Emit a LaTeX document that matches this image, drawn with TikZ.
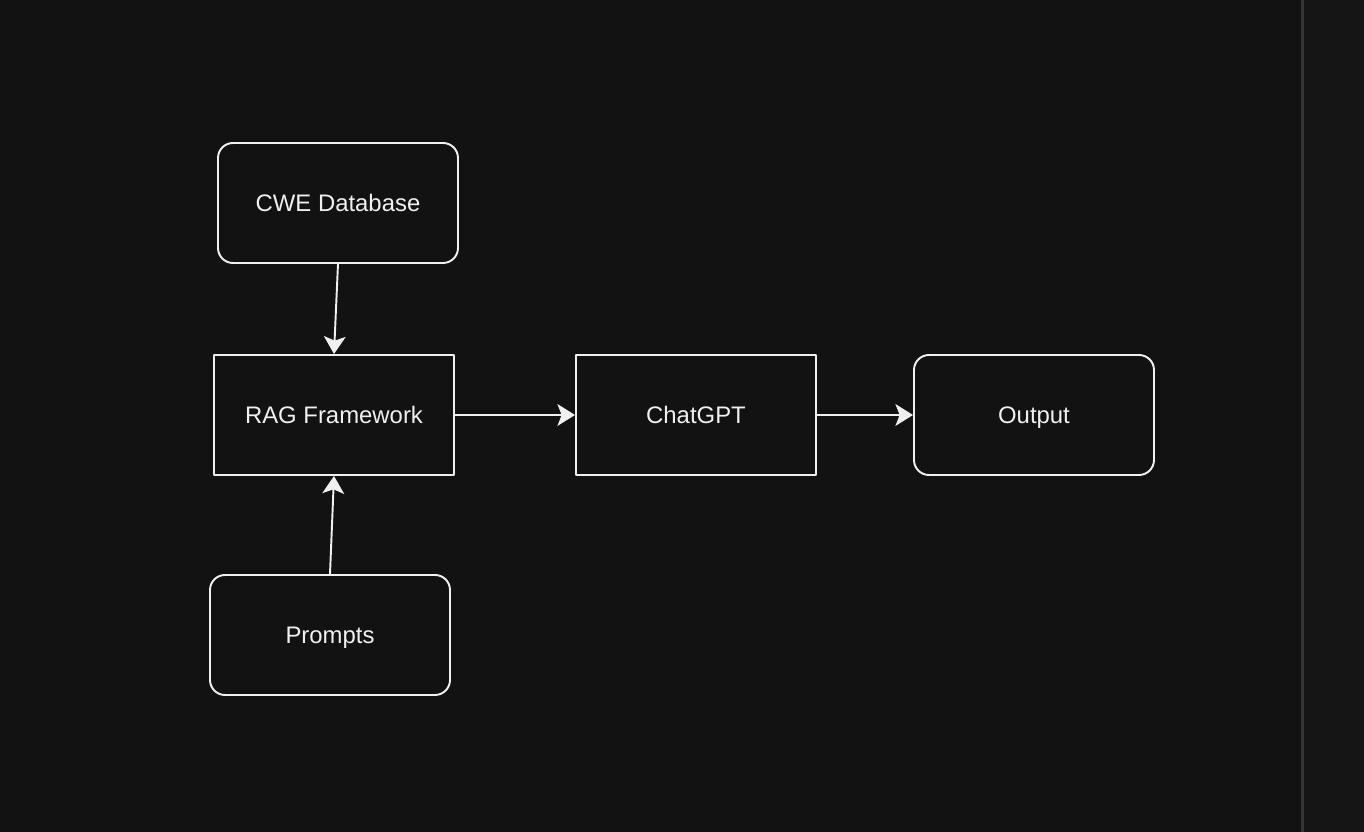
\documentclass[tikz,border=0pt]{standalone}
\usepackage{fontspec}
\setmainfont{Liberation Sans}
\usetikzlibrary{arrows.meta}
\definecolor{bgdark}{HTML}{121212}
\definecolor{bgside}{HTML}{151515}
\definecolor{edgegray}{HTML}{F0F0F0}
\definecolor{stripegray}{HTML}{363636}
\begin{document}
\begin{tikzpicture}[>={Stealth[length=5pt,width=6.2pt,inset=1.2pt]},line join=round,font=\fontsize{6.8pt}{8pt}\selectfont,x=1cm,y=-1cm]
	\tikzset{
		block/.style={draw=edgegray,line width=0.55pt,text=edgegray,minimum width=2.4cm,minimum height=1.2cm,inner sep=0pt,text height=4.87pt,text depth=0pt},
		roundblock/.style={block,rounded corners=0.15cm},
		flow/.style={->,draw=edgegray,line width=0.55pt}
	}
	\fill[bgdark] (0,0) rectangle (13.64,8.32);
	\useasboundingbox (0,0) rectangle (13.64,8.32);
	\fill[bgside] (13.04,0) rectangle (13.64,8.32);
	\draw[stripegray,line width=0.9pt] (13.025,0)--(13.025,8.32);
	% boxes
	\node[roundblock] (cwe) at (3.38,2.03) {CWE Database};
	\node[block] (rag) at (3.34,4.15) {RAG Framework};
	\node[block] (gpt) at (6.96,4.15) {ChatGPT};
	\node[roundblock] (out) at (10.34,4.15) {Output};
	\node[roundblock] (prm) at (3.30,6.35) {Prompts};
	% arrows
	\draw[flow] (cwe.south)--(rag.north);
	\draw[flow] (prm.north)--(rag.south);
	\draw[flow] (rag.east)--(gpt.west);
	\draw[flow] (gpt.east)--(out.west);
\end{tikzpicture}
\end{document}
